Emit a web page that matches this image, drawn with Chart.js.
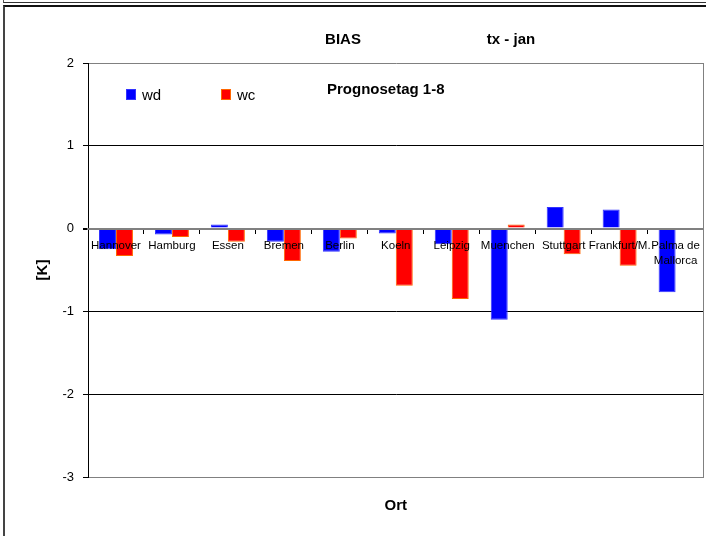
<!DOCTYPE html>
<html>
<head>
<meta charset="utf-8">
<script src="https://cdn.jsdelivr.net/npm/chart.js@4/dist/chart.umd.min.js"></script>
<style>
  body { margin: 0; background: #fff; }
  #wrap { position: relative; width: 706px; height: 536px; overflow: hidden; }
  #c { position: absolute; left: 0; top: 0; }
  .rahmen1 { position: absolute; left: 3px; top: 0; width: 703px; height: 2px; border-left: 1px solid #555; border-bottom: 1px solid #333; pointer-events: none; }
  .rahmen2 { position: absolute; left: 3px; top: 5px; width: 710px; height: 540px; border-top: 2px solid #111; border-left: 2px solid #444; pointer-events: none; }
</style>
</head>
<body>
<div id="wrap">
  <canvas id="c" width="706" height="536"></canvas>
  <div class="rahmen1"></div>
  <div class="rahmen2"></div>
</div>
<script>
// Stationen (Kategorien)
const orte = ['Hannover', 'Hamburg', 'Essen', 'Bremen', 'Berlin', 'Koeln', 'Leipzig',
              'Muenchen', 'Stuttgart', 'Frankfurt/M.', ['Palma de', 'Mallorca']];
// BIAS in K
const wd = [-0.25, -0.07, 0.05, -0.16, -0.28, -0.06, -0.19, -1.10, 0.26, 0.23, -0.77];
const wc = [-0.33, -0.10, -0.16, -0.39, -0.12, -0.69, -0.85, 0.05, -0.31, -0.45, null];
const yMin = -3;
const yMax = 2;

const titel = 'BIAS';
const untertitel = 'tx - jan';
const prognose = 'Prognosetag 1-8';

const fam = '"Liberation Sans", Arial, sans-serif';
Chart.defaults.font.family = fam;
Chart.defaults.color = '#000';

const texte = {
  id: 'texte',
  afterDraw(chart) {
    const c = chart.ctx;
    c.save();
    c.fillStyle = '#000';
    c.textBaseline = 'alphabetic';
    c.font = 'bold 15px ' + fam;
    c.textAlign = 'center';
    c.fillText(titel, 343, 44);
    c.fillText(untertitel, 511, 44);
    c.textAlign = 'left';
    c.fillText(prognose, 327, 94);
    // legende im diagramm
    c.font = '15px ' + fam;
    const lx = [126, 221];
    chart.data.datasets.forEach((ds, i) => {
      c.fillStyle = ds.backgroundColor;
      c.fillRect(lx[i], 89, 10, 11);
      c.strokeStyle = ds.borderColor;
      c.lineWidth = 1;
      c.strokeRect(lx[i] + 0.5, 89.5, 9, 10);
      c.fillStyle = '#000';
      c.fillText(ds.label, lx[i] + 16, 100);
    });
    c.restore();
  }
};

const randLinie = v => (v === 0 || v === yMin || v === yMax) ? '#808080' : '#000';

new Chart(document.getElementById('c'), {
  type: 'bar',
  data: {
    labels: orte,
    datasets: [
      { label: 'wd', data: wd, backgroundColor: '#0000FF', borderColor: '#3333FF', borderWidth: 1 },
      { label: 'wc', data: wc, backgroundColor: '#FF0000', borderColor: '#FF6600', borderWidth: 1 }
    ]
  },
  options: {
    responsive: false,
    animation: false,
    devicePixelRatio: 1,
    categoryPercentage: 0.607,
    barPercentage: 1,
    layout: { padding: { top: 63, right: 2, bottom: 0, left: 0 } },
    plugins: {
      legend: { display: false },
      tooltip: { enabled: false }
    },
    scales: {
      x: {
        position: { y: 0 },
        border: { color: '#808080', width: 2, z: 1 },
        grid: { drawOnChartArea: false, drawTicks: true, tickLength: 4, color: '#000', offset: true },
        ticks: {
          z: 1,
          autoSkip: false, maxRotation: 0, minRotation: 0, padding: 6,
          font: { size: 11.5, lineHeight: 1.3 }, color: '#000'
        }
      },
      x2: {
        type: 'category',
        labels: orte,
        position: 'bottom',
        grid: { display: false },
        border: { color: '#808080', width: 1 },
        ticks: { display: false },
        title: { display: true, text: 'Ort', font: { size: 15, weight: 'bold' }, padding: { top: 0, bottom: 21 }, color: '#000' },
        afterFit: s => { s.height = 59; }
      },
      y: {
        min: yMin,
        max: yMax,
        ticks: { stepSize: 1, padding: 9, font: { size: 13 }, color: '#000' },
        grid: {
          color: ctx => randLinie(ctx.tick ? ctx.tick.value : null),
          lineWidth: ctx => (ctx.tick && ctx.tick.value === 0) ? 2 : 1,
          tickColor: '#000',
          tickLength: 5
        },
        border: { color: '#000', width: 1 },
        title: { display: true, text: '[K]', font: { size: 15, weight: 'bold' }, padding: { top: 34, bottom: 0 }, color: '#000' },
        afterFit: s => { s.width = 88; }
      },
      y2: {
        position: 'right',
        min: yMin,
        max: yMax,
        ticks: { display: false },
        grid: { display: false, drawTicks: false },
        border: { color: '#808080', width: 1 },
        afterFit: s => { s.width = 0; }
      }
    }
  },
  plugins: [texte]
});
</script>
</body>
</html>
